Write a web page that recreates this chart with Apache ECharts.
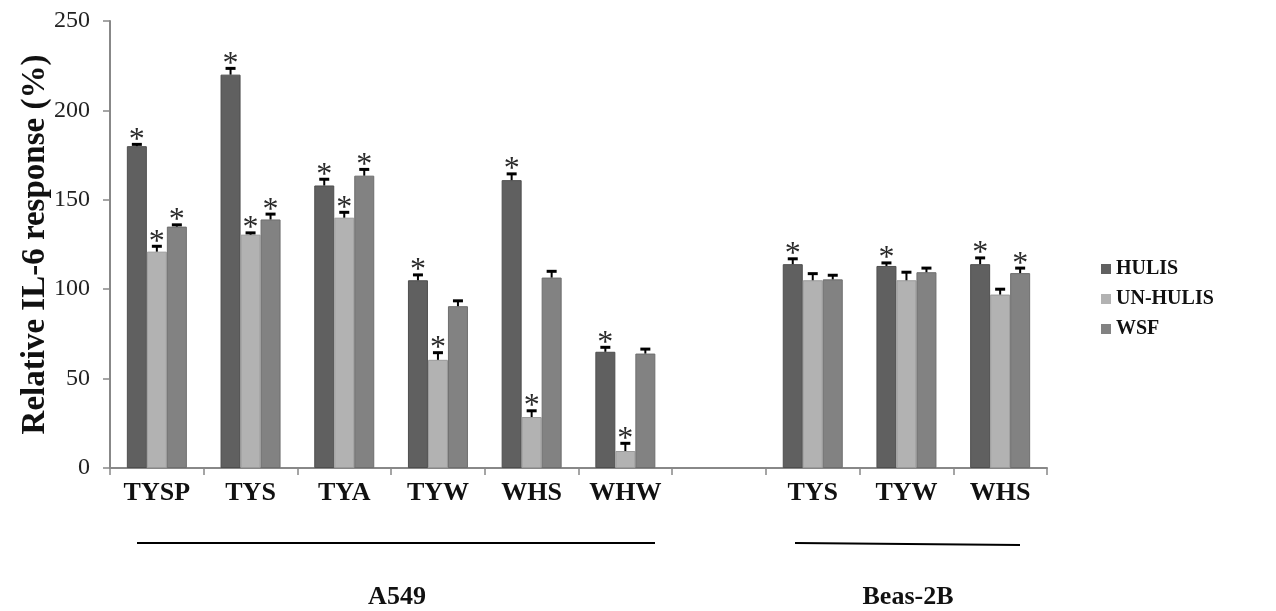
<!DOCTYPE html>
<html>
<head>
<meta charset="utf-8">
<script src="https://cdn.jsdelivr.net/npm/echarts@6/dist/echarts.min.js"></script>
<style>
html,body{margin:0;padding:0;background:#fff;}
#chart{width:1276px;height:611px;}
</style>
</head>
<body>
<div id="chart"></div>
<script>
// ---- data ----
var categories = ['TYSP', 'TYS', 'TYA', 'TYW', 'WHS', 'WHW', '', 'TYS', 'TYW', 'WHS'];
var seriesNames = ['HULIS', 'UN-HULIS', 'WSF'];
var hulis      = [180, 220, 158, 105, 161, 65, null, 114, 113, 114];
var unHulis    = [121, 130.5, 140, 60.5, 28.5, 9.5, null, 105, 105, 97];
var wsf        = [135, 139, 163.5, 90.5, 106.5, 64, null, 105.5, 109.5, 109];
var hulisErr   = [1, 3.5, 3.5, 3, 3.5, 2.5, null, 3, 1.7, 3.5];
var unHulisErr = [3, 1, 3, 4, 3.5, 4.3, null, 3.7, 4.5, 3];
var wsfErr     = [1, 3, 3.5, 3, 3.5, 2.5, null, 2.3, 2.3, 2.8];
var hulisSig   = [1, 1, 1, 1, 1, 1, 0, 1, 1, 1];
var unHulisSig = [1, 1, 1, 1, 1, 1, 0, 0, 0, 0];
var wsfSig     = [1, 1, 1, 0, 0, 0, 0, 0, 0, 1];
var yTicks = [0, 50, 100, 150, 200, 250];
var groupLabels = ['A549', 'Beas-2B'];

var values = [hulis, unHulis, wsf];
var errs = [hulisErr, unHulisErr, wsfErr];
var sigs = [hulisSig, unHulisSig, wsfSig];
var colors = ['#606060', '#b2b2b2', '#828282'];
var borders = ['#4e4e4e', '#9a9a9a', '#6e6e6e'];
var BAR_W = 20;
var SERIF = '"Liberation Serif", "Times New Roman", serif';

var chart = echarts.init(document.getElementById('chart'));

var series = [];
seriesNames.forEach(function (name, k) {
  series.push({
    name: name,
    type: 'bar',
    barWidth: BAR_W,
    barGap: '0%',
    data: values[k],
    itemStyle: { color: colors[k], borderColor: borders[k], borderWidth: 1 },
    emphasis: { disabled: true },
    z: 2
  });
});
seriesNames.forEach(function (name, k) {
  var d = [];
  for (var i = 0; i < categories.length; i++) {
    if (values[k][i] == null) continue;
    d.push([i, values[k][i], errs[k][i], sigs[k][i]]);
  }
  series.push({
    type: 'custom',
    name: name + '-err',
    data: d,
    encode: { x: 0, y: 1 },
    z: 5,
    silent: true,
    renderItem: (function (kk) {
      return function (params, api) {
        var idx = api.value(0), v = api.value(1), e = api.value(2), s = api.value(3);
        var off = (kk - 1) * BAR_W;
        var top = api.coord([idx, v + e]);
        var base = api.coord([idx, v]);
        var cx = top[0] + off;
        var children = [
          { type: 'line', shape: { x1: cx, y1: base[1], x2: cx, y2: top[1] }, style: { stroke: '#000', lineWidth: 2 } },
          { type: 'line', shape: { x1: cx - 5, y1: top[1], x2: cx + 5, y2: top[1] }, style: { stroke: '#000', lineWidth: 3 } }
        ];
        if (s) {
          children.push({
            type: 'text',
            x: cx, y: top[1] + 12,
            style: { text: '*', fill: '#2a2a2a', font: '32px ' + SERIF, textAlign: 'center', textVerticalAlign: 'bottom' }
          });
        }
        return { type: 'group', children: children };
      };
    })(k)
  });
});

chart.setOption({
  animation: false,
  backgroundColor: '#fff',
  grid: { left: 110, right: 229, top: 21, bottom: 143, containLabel: false },
  legend: {
    data: seriesNames,
    orient: 'vertical',
    left: 1096,
    top: 254,
    itemWidth: 10,
    itemHeight: 10,
    itemGap: 10,
    icon: 'rect',
    itemStyle: { borderWidth: 0 },
    textStyle: { fontFamily: SERIF, fontWeight: 'bold', fontSize: 20, color: '#111' }
  },
  xAxis: {
    type: 'category',
    data: categories,
    axisLine: { lineStyle: { color: '#888', width: 2 } },
    axisTick: { show: true, interval: 0, length: 7, lineStyle: { color: '#888', width: 1.5 } },
    axisLabel: { interval: 0, hideOverlap: false, fontFamily: SERIF, fontWeight: 'bold', fontSize: 26, color: '#111', margin: 12 }
  },
  yAxis: {
    type: 'value',
    min: 0, max: 250, interval: 50,
    name: 'Relative IL-6 response (%)',
    nameLocation: 'middle',
    nameGap: 58,
    nameMoveOverlap: false,
    nameRotate: 90,
    nameTextStyle: { fontFamily: SERIF, fontWeight: 'bold', fontSize: 33, color: '#111' },
    axisLine: { show: true, lineStyle: { color: '#888', width: 2 } },
    axisTick: { show: true, length: 7, lineStyle: { color: '#888', width: 1.5 } },
    splitLine: { show: false },
    axisLabel: {
      fontFamily: SERIF, fontSize: 24, color: '#222', margin: 20,
      formatter: function (v) { return yTicks.indexOf(v) >= 0 ? String(v) : ''; }
    }
  },
  graphic: [
    { type: 'line', shape: { x1: 137, y1: 543, x2: 655, y2: 543 }, style: { stroke: '#000', lineWidth: 2 } },
    { type: 'line', shape: { x1: 795, y1: 543, x2: 1020, y2: 545 }, style: { stroke: '#000', lineWidth: 2 } },
    { type: 'text', x: 397, y: 597, style: { text: groupLabels[0], font: 'bold 26px ' + SERIF, fill: '#111', textAlign: 'center', textVerticalAlign: 'middle' } },
    { type: 'text', x: 908, y: 597, style: { text: groupLabels[1], font: 'bold 26px ' + SERIF, fill: '#111', textAlign: 'center', textVerticalAlign: 'middle' } }
  ],
  series: series
});
</script>
</body>
</html>
